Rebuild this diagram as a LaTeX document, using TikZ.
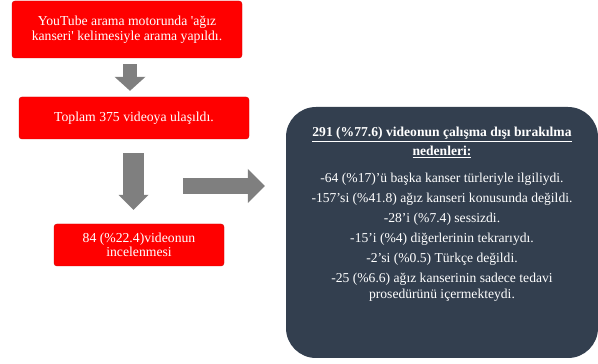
\documentclass[tikz,border=0pt]{standalone}
\usepackage{fontspec}
\setmainfont{Liberation Serif}[Ligatures=TeXOff]
\usetikzlibrary{arrows.meta,calc}
\definecolor{boxred}{RGB}{255,0,0}
\definecolor{slate}{RGB}{51,63,79}
\definecolor{arrowgray}{RGB}{127,127,127}
\tikzset{
    every node/.style={align=center,},
    redbox/.style={draw=boxred!80!black,fill=boxred,rounded corners=3pt,text=white,inner sep=0pt,},
    reasonbox/.style={fill=slate,rounded corners=30pt,inner sep=0pt,},
    blockarrow/.style={draw=arrowgray,line width=#1,},
}

\begin{document}
\begin{tikzpicture}[x=1pt,y=1pt]
        \useasboundingbox (0,0) rectangle (598,364);

        \node[redbox,minimum width=230pt,minimum height=57pt,font=\fontsize{13.7}{15}\selectfont] (search) at (127, 334.5) {\raisebox{-1.5pt}{YouTube arama motorunda 'ağız}\\\raisebox{-1.5pt}{kanseri' kelimesiyle arama yapıldı.}};
        \node[redbox,minimum width=230pt,minimum height=42pt,font=\fontsize{13.7}{15}\selectfont] (total) at (134, 246) {Toplam 375 videoya ulaşıldı.};
        \node[redbox,minimum width=170pt,minimum height=42pt,font=\fontsize{13.7}{14}\selectfont] (reviewed) at (139, 119) {84 (\%22.4)videonun\\incelenmesi};

        \node[reasonbox,minimum width=312pt,minimum height=251pt] (reasons) at (442, 131.5) {};
        \node[text=white,inner sep=0pt,anchor=north,font=\fontsize{13.6}{15.5}\selectfont] (reasonlist) at (442, 237) {%
            \textbf{\underline{291 (\%77.6) videonun çalışma dışı bırakılma}}\\[3.5pt]
            \textbf{\underline{nedenleri:}}\\[11.5pt]
            -64 (\%17)’ü başka kanser türleriyle ilgiliydi.\\[4.5pt]
            -157’si (\%41.8) ağız kanseri konusunda değildi.\\[4.5pt]
            -28’i (\%7.4) sessizdi.\\[4.5pt]
            -15’i (\%4) diğerlerinin tekrarıydı.\\[4.5pt]
            -2’si (\%0.5) Türkçe değildi.\\[4.5pt]
            -25 (\%6.6) ağız kanserinin sadece tedavi\\
            prosedürünü içermekteydi.};

        \draw[blockarrow=14pt,-{Triangle[width=31pt,length=14pt,line width=0pt]}] ($(search.south)+(3,-6)$) to ($(total.north)+(-4,6)$);
        \draw[blockarrow=21pt,-{Triangle[width=30pt,length=15pt,line width=0pt]}] ($(total.south)+(-0.5,-14)$) to ($(reviewed.north)+(-5.5,14)$);
        \draw[blockarrow=16pt,-{Triangle[width=34pt,length=17pt,line width=0pt]}] ($(reasons.west)+(-103,46.5)$) to ($(reasons.west)+(-21,46.5)$);
    \end{tikzpicture}
\end{document}
